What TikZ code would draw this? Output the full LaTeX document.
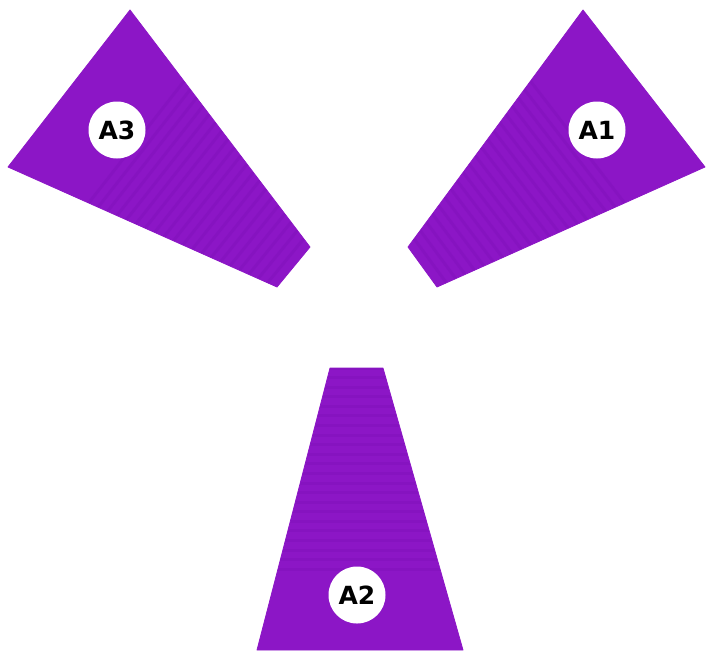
\documentclass[tikz,border=0pt]{standalone}
\usepackage{fontspec}
\setmainfont{DejaVu Sans}
\usetikzlibrary{calc}
\definecolor{blade}{RGB}{140,22,198}
\definecolor{stripe}{RGB}{105,8,165}
\tikzset{
  bladefill/.style={fill=blade, draw=blade, line width=0.8pt, line join=round},
  stripeline/.style={draw=stripe, line width=3pt, opacity=0.16},
  tag/.style={circle, fill=white, minimum size=57pt, inner sep=0pt,
    font=\fontsize{25}{25}\selectfont\bfseries, text=black}
}
\begin{document}
\begin{tikzpicture}[x=1pt,y=-1pt]
\useasboundingbox (0,0) rectangle (706,654);
% A3 blade
\coordinate (a3t) at (130,10);
\coordinate (a3l) at (8,167);
\coordinate (a3r) at (310,247);
\coordinate (a3b) at (277,287);
\path[bladefill] (a3t) -- (a3r) -- (a3b) -- (a3l) -- cycle;
\begin{scope}
\clip (a3t) -- (a3r) -- (a3b) -- (a3l) -- cycle;
\foreach \t in {0.30,0.335,...,1.0}
  \draw[stripeline] ($(a3t)!\t!(a3r)$) -- ($(a3l)!\t!(a3b)$);
\end{scope}
% A1 blade
\coordinate (a1t) at (583,10);
\coordinate (a1r) at (705,167);
\coordinate (a1l) at (408,247);
\coordinate (a1b) at (437,287);
\path[bladefill] (a1t) -- (a1r) -- (a1b) -- (a1l) -- cycle;
\begin{scope}
\clip (a1t) -- (a1r) -- (a1b) -- (a1l) -- cycle;
\foreach \t in {0.30,0.335,...,1.0}
  \draw[stripeline] ($(a1t)!\t!(a1l)$) -- ($(a1r)!\t!(a1b)$);
\end{scope}
% A2 blade
\coordinate (a2tl) at (330,368);
\coordinate (a2tr) at (383,368);
\coordinate (a2br) at (463,650);
\coordinate (a2bl) at (257,650);
\path[bladefill] (a2tl) -- (a2tr) -- (a2br) -- (a2bl) -- cycle;
\begin{scope}
\clip (a2tl) -- (a2tr) -- (a2br) -- (a2bl) -- cycle;
\foreach \t in {0.0,0.034,...,0.72}
  \draw[stripeline] ($(a2tl)!\t!(a2bl)$) -- ($(a2tr)!\t!(a2br)$);
\end{scope}
% labels
\node[tag] (A3) at (117,130) {A3};
\node[tag] (A1) at (597,130) {A1};
\node[tag] (A2) at (357,595) {A2};
\end{tikzpicture}
\end{document}
